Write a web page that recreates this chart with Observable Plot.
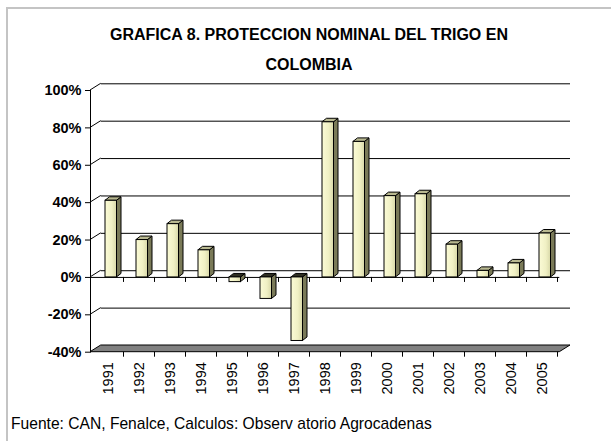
<!DOCTYPE html>
<html><head><meta charset="utf-8">
<script src="https://cdn.jsdelivr.net/npm/d3@7"></script>
<script src="https://cdn.jsdelivr.net/npm/@observablehq/plot@0.6"></script>
<style>
body{margin:0;background:#fff;}
#wrap{position:relative;width:611px;height:441px;overflow:hidden;font-family:"Liberation Sans",Arial,sans-serif;color:#000;}
#frame{position:absolute;left:6px;top:7px;width:620px;height:450px;border-top:2px solid #c4c4c4;border-left:2px solid #c4c4c4;pointer-events:none;}
.title{position:absolute;left:7px;width:604px;text-align:center;font-weight:bold;font-size:16px;line-height:16px;white-space:nowrap;}
#chart{position:absolute;left:0;top:0;}
#caption{position:absolute;left:11px;top:414.6px;font-size:17px;line-height:17px;white-space:nowrap;transform:scaleX(0.918);transform-origin:left top;}
</style></head>
<body>
<div id="wrap">
  <div id="chart"></div>
  <div class="title" style="top:26.5px">GRAFICA 8. PROTECCION NOMINAL DEL TRIGO EN</div>
  <div class="title" style="top:56.5px">COLOMBIA</div>
  <div id="caption">Fuente: CAN, Fenalce, Calculos: Observ atorio Agrocadenas</div>
  <div id="frame"></div>
</div>
<script>
const years = ["1991","1992","1993","1994","1995","1996","1997","1998","1999","2000","2001","2002","2003","2004","2005"];
const values = [41, 20, 28.5, 14.5, -2.5, -11.5, -34, 83, 72.5, 43.5, 44.5, 17.5, 3.5, 7.5, 23.5];
const yTicks = [-40, -20, 0, 20, 40, 60, 80, 100];

const data = years.map((year, i) => ({year, value: values[i]}));

const DX = 10.7, DY = -6.7;   // wall depth
const BD = 4.5, BE = -3.5;    // bar depth
const IL = 13, IR = 6.5;      // bar insets

const defs = () => {
  const d = d3.create("svg:defs");
  const g = d.append("linearGradient").attr("id", "barGrad").attr("x1", 0).attr("x2", 1).attr("y1", 0).attr("y2", 0);
  g.append("stop").attr("offset", "0%").attr("stop-color", "#fbfbd6");
  g.append("stop").attr("offset", "60%").attr("stop-color", "#f0f0c4");
  g.append("stop").attr("offset", "100%").attr("stop-color", "#d8d8a8");
  return d.node();
};

const gridTicks = yTicks.filter(v => v > -40);

// back grid diagonals on the left wall
const wallDiag = Plot.ruleY(gridTicks, {
  render(index, {y}, values, dims) {
    const g = d3.create("svg:g").attr("stroke", "#000").attr("stroke-width", 1);
    const x0 = dims.marginLeft;
    for (const i of index) {
      const v = gridTicks[i];
      g.append("line").attr("x1", x0).attr("y1", y(v)).attr("x2", x0 + DX).attr("y2", y(v) + DY);
    }
    return g.node();
  }
});

// floor at -40
const floor = Plot.ruleY([-40], {
  render(index, {y}, values, dims) {
    const x0 = dims.marginLeft, x1 = dims.width - dims.marginRight, yy = y(-40);
    return d3.create("svg:path")
      .attr("d", `M${x0},${yy}L${x1},${yy}L${x1 + DX},${yy + DY}L${x0 + DX},${yy + DY}Z`)
      .attr("fill", "#808080").attr("stroke", "#000").attr("stroke-width", 1).node();
  }
});

// category boundary ticks at 0 and -40
const catTicks = Plot.ruleY([0, -40], {
  render(index, {x, y}) {
    const g = d3.create("svg:g").attr("stroke", "#000").attr("stroke-width", 1);
    const bw = x.bandwidth();
    for (const v of [0, -40]) {
      for (const yr of years) {
        const xx = Math.round(x(yr) + bw) + 0.5;
        g.append("line").attr("x1", xx).attr("x2", xx).attr("y1", y(v)).attr("y2", y(v) + 5);
      }
    }
    return g.node();
  }
});

// 3D side and top faces of bars
const barSides = Plot.barY(data, {
  x: "year", y: "value",
  render(index, {x, y}) {
    const g = d3.create("svg:g").attr("stroke", "#000").attr("stroke-width", 1).attr("stroke-linejoin", "round");
    const bw = x.bandwidth();
    for (const i of index) {
      const d = data[i];
      const xl = x(d.year) + IL, xr = x(d.year) + bw - IR;
      const y0 = y(0), y1 = y(d.value);
      const yt = Math.min(y0, y1), yb = Math.max(y0, y1);
      g.append("path").attr("d", `M${xr},${yt}L${xr + BD},${yt + BE}L${xr + BD},${yb + BE}L${xr},${yb}Z`).attr("fill", "#7a7a58");
      g.append("path").attr("d", `M${xl},${yt}L${xl + BD},${yt + BE}L${xr + BD},${yt + BE}L${xr},${yt}Z`).attr("fill", d.value < 0 ? "#2e2e22" : "#b8b890");
    }
    return g.node();
  }
});

const plot = Plot.plot({
  width: 611,
  height: 441,
  marginLeft: 90,
  marginRight: 51.7,
  marginTop: 90,
  marginBottom: 89.3,
  style: {background: "transparent", fontFamily: "'Liberation Sans', Arial, sans-serif", color: "#000"},
  x: {type: "band", domain: years, padding: 0},
  y: {domain: [-40, 100]},
  marks: [
    defs,
    Plot.ruleY(gridTicks, {dx: DX, dy: DY, stroke: "#000", strokeWidth: 1}),
    wallDiag,
    floor,
    Plot.ruleY([0], {stroke: "#000", strokeWidth: 1}),
    catTicks,
    Plot.frame({anchor: "left", stroke: "#000"}),
    Plot.axisY({ticks: yTicks, tickFormat: d => d + "%", tickSize: 5, tickPadding: 4, fontSize: 14.5, fontWeight: "bold", label: null, stroke: "#000"}),
    Plot.axisX({tickSize: 0, tickPadding: 10, tickRotate: -90, fontSize: 14.5, label: null}),
    barSides,
    Plot.barY(data, {x: "year", y: "value", insetLeft: IL, insetRight: IR, fill: "url(#barGrad)", stroke: "#000", strokeWidth: 1})
  ]
});
document.getElementById("chart").appendChild(plot);
</script>
</body></html>
